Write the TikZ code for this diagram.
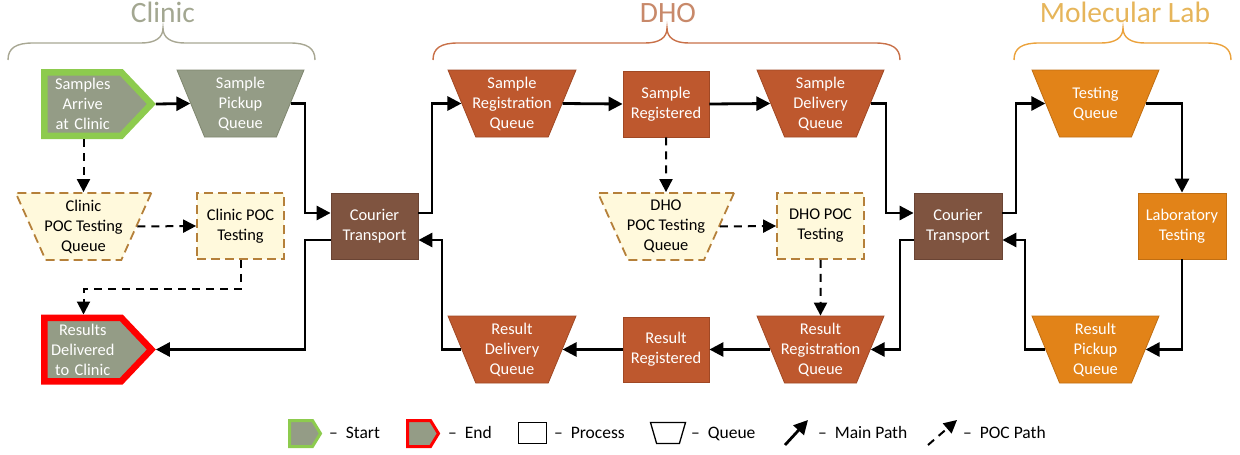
\documentclass[tikz,border=0pt]{standalone}
\usepackage{fontspec}
\setmainfont{Carlito}
\usetikzlibrary{shapes.geometric,shapes.symbols,arrows.meta}

\definecolor{clinicfill}{HTML}{949C86}
\definecolor{clinicdraw}{HTML}{7F866F}
\definecolor{clinictitle}{HTML}{A3A791}
\definecolor{clinicbrace}{HTML}{A8A793}
\definecolor{startgreen}{HTML}{8DCB4E}
\definecolor{endred}{HTML}{FF0000}
\definecolor{pocfill}{HTML}{FFF9DC}
\definecolor{pocdraw}{HTML}{B5803A}
\definecolor{dhofill}{HTML}{BE582E}
\definecolor{dhodraw}{HTML}{A04824}
\definecolor{dhotitle}{HTML}{C8896A}
\definecolor{dhobrace}{HTML}{C87048}
\definecolor{courfill}{HTML}{7F5440}
\definecolor{courdraw}{HTML}{6A4434}
\definecolor{labfill}{HTML}{E28318}
\definecolor{labdraw}{HTML}{C06E12}
\definecolor{labtitle}{HTML}{E6B55A}
\definecolor{labbrace}{HTML}{EBA23C}

\newcommand\curlybrace[4]{%
  \draw[#4, line width=1.4pt]
    (#1,60) .. controls (#1,48) and (#1+8,43) .. (#1+25,43)
    -- (#2-22,43) .. controls (#2-8,43) and (#2,38) .. (#2,28)
    .. controls (#2,38) and (#2+8,43) .. (#2+22,43)
    -- (#3-25,43) .. controls (#3-8,43) and (#3,48) .. (#3,60);}

\tikzset{
  nodefont/.style={font=\fontsize{16.4}{20}\selectfont},
  legfont/.style={font=\fontsize{17.5}{20}\selectfont},
  titlefont/.style={font=\fontsize{29.5}{32}\selectfont},
  proc/.style={rectangle, minimum width=87pt, minimum height=66pt, inner sep=0pt,
    align=center, nodefont, text=white, line width=0.8pt},
  queue/.style={trapezium, trapezium angle=69, shape border rotate=180,
    trapezium stretches=true, minimum width=127pt, minimum height=67pt,
    inner sep=0pt, text width=2pt, text height=2pt, text depth=0pt, line width=0.8pt},
  qlabel/.style={nodefont, align=center, text=white},
  pqlabel/.style={nodefont, align=center, text=black},
  clinicstyle/.style={fill=clinicfill, draw=clinicdraw},
  dhostyle/.style={fill=dhofill, draw=dhodraw},
  courstyle/.style={fill=courfill, draw=courdraw},
  labstyle/.style={fill=labfill, draw=labdraw},
  pocstyle/.style={fill=pocfill, draw=pocdraw, line width=1.8pt, dash pattern=on 9pt off 5pt},
  terminal/.style={signal, signal to=east, signal pointer angle=93, fill=clinicfill,
    line width=6.5pt, text width=70pt, inner xsep=3.5pt, inner ysep=0pt,
    minimum height=63.5pt, align=center, nodefont, text=white},
  main/.style={line width=2.8pt, -{Triangle[length=14pt,width=14pt]}},
  poc/.style={line width=2pt, dash pattern=on 8pt off 6pt, -{Triangle[length=13pt,width=13pt]}},
  legicon/.style={signal, signal to=east, signal pointer angle=117, fill=clinicfill,
    line width=3pt, text width=2pt, text height=2pt, text depth=0pt,
    inner xsep=10.5pt, inner ysep=0pt, minimum height=26pt},
  legtext/.style={legfont, anchor=base west, inner sep=0pt},
}

\begin{document}
\begin{tikzpicture}[x=1pt,y=-1pt]
\useasboundingbox (0,0) rectangle (1240,455);

% titles and braces
\node[titlefont, text=clinictitle, anchor=base] (tclinic) at (163,23) {Clinic};
\node[titlefont, text=dhotitle, anchor=base] (tdho) at (668,23) {DHO};
\node[titlefont, text=labtitle, anchor=base] (tlab) at (1125,23) {Molecular Lab};
\curlybrace{8}{163}{315}{clinicbrace}
\curlybrace{433}{667}{900}{dhobrace}
\curlybrace{1014}{1123}{1231}{labbrace}

% Clinic
\node[terminal, draw=startgreen, anchor=west] (start) at (41,104) {Samples\\Arrive\\at Clinic};
\node[queue, clinicstyle, label={[qlabel]center:Sample\\Pickup\\Queue}] (cpq) at (240.5,103.5) {};
\node[queue, pocstyle, trapezium angle=68.4, minimum width=135.5pt,
      label={[pqlabel]center:Clinic\\POC Testing\\Queue}] (cpocq) at (83.5,226.5) {};
\node[proc, pocstyle, text=black] (cpoc) at (240.5,226) {Clinic POC\\Testing};
\node[terminal, draw=endred, anchor=west] (endn) at (41,349.5) {Results\\Delivered\\to Clinic};
\node[proc, courstyle] (courier1) at (374.5,226) {Courier\\Transport};

% DHO
\node[queue, dhostyle, minimum width=128pt, label={[qlabel]center:Sample\\Registration\\Queue}] (srq) at (512,103.5) {};
\node[proc, dhostyle, minimum width=86pt] (sreg) at (666,104) {Sample\\Registered};
\node[queue, dhostyle, label={[qlabel]center:Sample\\Delivery\\Queue}] (sdq) at (820.5,103.5) {};
\node[queue, pocstyle, trapezium angle=68.4, minimum width=136pt,
      label={[pqlabel]center:DHO\\POC Testing\\Queue}] (dpocq) at (666,226.5) {};
\node[proc, pocstyle, text=black] (dpoc) at (820.5,226) {DHO POC\\Testing};
\node[queue, dhostyle, label={[qlabel]center:Result\\Registration\\Queue}] (rrq) at (820.5,349.5) {};
\node[proc, dhostyle, minimum width=86pt, minimum height=65pt] (rreg) at (666,349.5) {Result\\Registered};
\node[queue, dhostyle, minimum width=128pt, label={[qlabel]center:Result\\Delivery\\Queue}] (rdq) at (512,349.5) {};
\node[proc, courstyle, minimum width=88pt] (courier2) at (958,226) {Courier\\Transport};

% Molecular Lab
\node[queue, labstyle, label={[qlabel]center:Testing\\Queue}] (tq) at (1095.5,103.5) {};
\node[proc, labstyle, minimum width=88pt] (lt) at (1182,226) {Laboratory\\Testing};
\node[queue, labstyle, label={[qlabel]center:Result\\Pickup\\Queue}] (rpq) at (1095.5,349.5) {};

% main path
\draw[main] (start.east) -- (cpq.west);
\draw[main] (cpq.east) -- (305,103.5) -- (305,213) -- ([yshift=13pt]courier1.west);
\draw[main] ([yshift=13pt]courier1.east) -- (432,213) -- (432,103.5) -- (srq.west);
\draw[main] (srq.east) -- (sreg.west);
\draw[main] (sreg.east) -- (sdq.west);
\draw[main] (sdq.east) -- (886,103.5) -- (886,213) -- ([yshift=13pt]courier2.west);
\draw[main] ([yshift=13pt]courier2.east) -- (1016,213) -- (1016,103.5) -- (tq.west);
\draw[main] (tq.east) -| (lt.north);
\draw[main] (lt.south) |- (rpq.east);
\draw[main] (rpq.west) -- (1025,349.5) -- (1025,240) -- ([yshift=-14pt]courier2.east);
\draw[main] ([yshift=-14pt]courier2.west) -- (900,240) -- (900,349.5) -- (rrq.east);
\draw[main] (rrq.west) -- (rreg.east);
\draw[main] (rreg.west) -- (rdq.east);
\draw[main] (rdq.west) -- (442,349.5) -- (442,240) -- ([yshift=-14pt]courier1.east);
\draw[main] ([yshift=-14pt]courier1.west) -- (305,240) -- (305,349.5) -- (endn.east);

% POC path
\draw[poc] (cpocq.north |- start.south) -- (cpocq.north);
\draw[poc] (cpocq.east) -- (cpoc.west);
\draw[poc] (cpoc.south) -- ++(0,29) -| (cpocq.south |- endn.north);
\draw[poc] (sreg.south) -- (dpocq.north);
\draw[poc] (dpocq.east) -- (dpoc.west);
\draw[poc] (dpoc.south) -- (rrq.north);

% legend
\node[legicon, draw=startgreen, anchor=west] (lstart) at (288,433.5) {};
\node[legtext] (lstartt) at (329,438) {--\ \ Start};
\node[legicon, draw=endred, anchor=west] (lend) at (406,433.5) {};
\node[legtext] (lendt) at (448,438) {--\ \ End};
\node[draw, line width=1.3pt, minimum width=28pt, minimum height=21pt, inner sep=0pt] (lproc) at (532.5,433) {};
\node[legtext] (lproct) at (554,438) {--\ \ Process};
\node[trapezium, trapezium angle=75, shape border rotate=180, trapezium stretches=true,
      minimum width=35pt, minimum height=21pt, inner sep=0pt, text width=2pt, text height=2pt,
      text depth=0pt, draw, line width=1.3pt] (lqueue) at (668,433) {};
\node[legtext] (lqueuet) at (691,438) {--\ \ Queue};
\coordinate (lma) at (785,445);
\coordinate (lmb) at (808,420);
\draw[main] (lma) -- (lmb);
\node[legtext] (lmaint) at (818,438) {--\ \ Main Path};
\coordinate (lpa) at (928,445);
\coordinate (lpb) at (957,420);
\draw[poc] (lpa) -- (lpb);
\node[legtext] (lpoct) at (963,438) {--\ \ POC Path};
\end{tikzpicture}
\end{document}
